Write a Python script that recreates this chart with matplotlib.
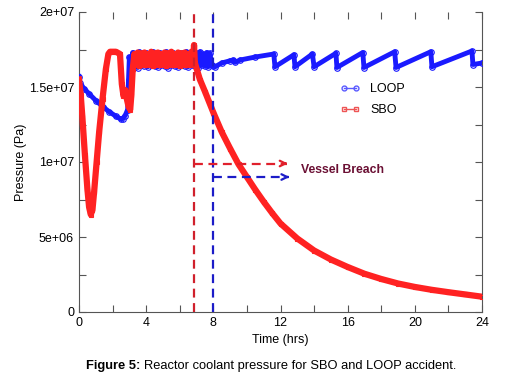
import numpy as np
import matplotlib
matplotlib.use("Agg")
import matplotlib.pyplot as plt
from matplotlib.lines import Line2D

plt.rcParams['font.family'] = ['Liberation Sans', 'DejaVu Sans']

# LOOP pressure (x 1e7 Pa) vs time (hrs)
loop_t = [0.0, 0.05, 0.1, 0.3, 0.6, 1.0, 1.4, 1.8, 2.2, 2.5, 2.6, 2.75, 2.9, 2.95,
          3.0, 3.1, 3.2, 3.3, 3.4, 3.5, 3.6, 3.7, 3.8, 3.9, 4.0, 4.1, 4.2, 4.3, 4.4,
          4.5, 4.6, 4.7, 4.8, 4.9, 5.0, 5.1, 5.2, 5.3, 5.4, 5.5, 5.6, 5.7, 5.8, 5.9,
          6.0, 6.1, 6.2, 6.3, 6.4, 6.5, 6.6, 6.7, 6.8, 6.9, 7.0, 7.1, 7.2, 7.3, 7.4,
          7.5, 7.6, 7.7, 7.8, 7.9, 8.0,
          8.1, 8.5, 9.0, 9.2, 9.3, 9.6, 10.5, 11.6, 11.67, 12.8, 12.86, 13.9, 14.0,
          15.3, 15.36, 16.9, 16.97, 18.8, 18.88, 20.95, 21.02, 23.4, 23.46, 24.0]
loop_p = [1.57, 1.53, 1.51, 1.49, 1.455, 1.41, 1.37, 1.335, 1.305, 1.285, 1.29, 1.31, 1.35, 1.55,
          1.70, 1.64, 1.73, 1.65, 1.72, 1.63, 1.735, 1.645, 1.725, 1.64, 1.73, 1.635, 1.72, 1.65, 1.735,
          1.64, 1.725, 1.635, 1.73, 1.645, 1.72, 1.64, 1.735, 1.63, 1.725, 1.645, 1.73, 1.64, 1.72, 1.635,
          1.73, 1.645, 1.725, 1.64, 1.735, 1.635, 1.72, 1.645, 1.73, 1.64, 1.725, 1.63, 1.735, 1.645, 1.72,
          1.64, 1.73, 1.635, 1.725, 1.645, 1.64,
          1.635, 1.66, 1.675, 1.68, 1.665, 1.68, 1.70, 1.72, 1.635, 1.715, 1.635, 1.72, 1.635,
          1.725, 1.63, 1.73, 1.63, 1.735, 1.63, 1.735, 1.635, 1.74, 1.65, 1.66]

# SBO pressure (x 1e7 Pa) vs time (hrs)
sbo_t = [0.0, 0.1, 0.2, 0.35, 0.5, 0.6, 0.7, 0.8, 0.9, 1.05, 1.2, 1.4, 1.6, 1.75, 1.85,
         2.0, 2.2, 2.44, 2.55, 2.65, 2.75, 2.85, 2.95, 3.05, 3.12, 3.2,
         3.3, 3.4, 3.5, 3.6, 3.7, 3.8, 3.9, 4.0, 4.1, 4.2, 4.3, 4.4, 4.5, 4.6, 4.7,
         4.8, 4.9, 5.0, 5.1, 5.2, 5.3, 5.4, 5.5, 5.6, 5.7, 5.8, 5.9, 6.0, 6.1, 6.2,
         6.3, 6.4, 6.5, 6.6, 6.7, 6.8, 6.85,
         6.9, 7.2, 7.5, 8.0, 8.5, 9.0, 9.5, 10.0, 10.5, 11.0, 11.5, 12.0, 13.0, 14.0,
         15.0, 16.0, 17.0, 18.0, 19.0, 20.0, 21.0, 22.0, 23.0, 24.0]
sbo_p = [1.55, 1.45, 1.30, 1.05, 0.82, 0.70, 0.65, 0.68, 0.80, 1.0, 1.2, 1.42, 1.62, 1.72, 1.735,
         1.735, 1.735, 1.72, 1.52, 1.44, 1.48, 1.42, 1.37, 1.35, 1.45, 1.62,
         1.72, 1.65, 1.73, 1.64, 1.725, 1.65, 1.73, 1.645, 1.72, 1.65, 1.735, 1.64, 1.725, 1.65, 1.73,
         1.645, 1.72, 1.65, 1.73, 1.64, 1.725, 1.65, 1.735, 1.645, 1.72, 1.65, 1.73, 1.64, 1.725, 1.65,
         1.73, 1.645, 1.72, 1.65, 1.735, 1.66, 1.78,
         1.66, 1.55, 1.47, 1.33, 1.20, 1.09, 0.985, 0.90, 0.815, 0.735, 0.66, 0.59, 0.49, 0.41,
         0.35, 0.30, 0.255, 0.22, 0.19, 0.167, 0.148, 0.132, 0.117, 0.102]

sbo_breach = 6.85
loop_breach = 8.0

blue = '#1a1aff'
red = '#ff2222'

fig = plt.figure(figsize=(5.21, 3.79), dpi=100)
ax = fig.add_axes([79 / 521, 1 - 312 / 379, 403 / 521, 300 / 379])

lt = np.array(loop_t)
lp = np.array(loop_p) * 1e7
st = np.array(sbo_t)
sp = np.array(sbo_p) * 1e7

ax.plot(lt, lp, color=blue, lw=3.5, marker='o', ms=4, mfc='none', mec=blue, mew=0.8, zorder=3)
ax.plot(st, sp, color=red, lw=4.5, marker='s', ms=3.5, mfc='none', mec=red, mew=0.8, zorder=4)

# breach markers
ax.axvline(sbo_breach, color='#d0202c', ls=(0, (4, 2.5)), lw=1.6, zorder=5)
ax.axvline(loop_breach, color='#1c1cc8', ls=(0, (4, 2.5)), lw=1.6, zorder=5)
ax.plot([sbo_breach, 12.4], [0.99e7, 0.99e7], color='#e0202c', ls=(0, (4, 2.5)), lw=1.6, zorder=5)
ax.plot([loop_breach, 12.5], [0.90e7, 0.90e7], color='#1c1cc8', ls=(0, (4, 2.5)), lw=1.6, zorder=5)
ax.annotate('', xy=(12.6, 0.99e7), xytext=(12.1, 0.99e7),
            arrowprops=dict(arrowstyle='->', color='#e0202c', lw=1.6), zorder=6)
ax.annotate('', xy=(12.7, 0.90e7), xytext=(12.2, 0.90e7),
            arrowprops=dict(arrowstyle='->', color='#1c1cc8', lw=1.6), zorder=6)
ax.text(13.2, 0.945e7, 'Vessel Breach', color='#6b1034', fontsize=8.8, fontweight='bold', va='center')

ax.set_xlim(0, 24)
ax.set_ylim(0, 2e7)
ax.set_xticks([0, 4, 8, 12, 16, 20, 24])
ax.set_xticks([2, 6, 10, 14, 18, 22], minor=True)
ax.set_yticks([0, 5e6, 1e7, 1.5e7, 2e7])
ax.set_yticks([2.5e6, 7.5e6, 1.25e7, 1.75e7], minor=True)
ax.set_yticklabels(['0', '5e+06', '1e+07', '1.5e+07', '2e+07'])
ax.tick_params(which='both', direction='in', top=True, right=True, length=5, width=0.8,
               color='#555555', labelsize=9)
ax.spines['top'].set_visible(False)
for s in ['left', 'right', 'bottom']:
    ax.spines[s].set_color('#555555')

ax.set_xlabel('Time (hrs)', fontsize=9)
ax.set_ylabel('Pressure (Pa)', fontsize=9, labelpad=1)

handles = [Line2D([0], [0], color='#5a5aff', lw=1, marker='o', ms=3.5, mfc='none'),
           Line2D([0], [0], color='#ee5555', lw=1, marker='s', ms=3, mfc='none')]
ax.legend(handles, ['LOOP', 'SBO'], loc='upper left', bbox_to_anchor=(0.62, 0.80),
          frameon=False, fontsize=9, numpoints=2, handlelength=1.6, labelspacing=0.7)

fig.text(86 / 521, 1 - 366 / 379, 'Figure 5:', fontsize=9.3, fontweight='bold', va='center')
fig.text(144 / 521, 1 - 366 / 379, 'Reactor coolant pressure for SBO and LOOP accident.',
         fontsize=9.3, va='center')

fig.savefig('out.png', dpi=100)
